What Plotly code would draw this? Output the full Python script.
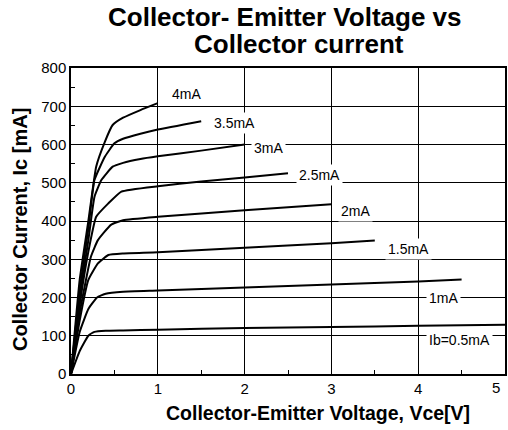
import plotly.graph_objects as go

# Data (Vce in V, Ic in mA)
vce_05 = [0, 0.1, 0.2, 0.27, 0.4, 0.6, 1, 2, 3, 4, 5]
ic_05 = [0, 60, 100, 110, 113, 114, 116, 120, 123, 126, 129]

vce_10 = [0, 0.1, 0.2, 0.3, 0.4, 0.6, 1, 2, 3, 4, 4.5]
ic_10 = [0, 110, 170, 200, 210, 215, 218, 226, 234, 242, 247]

vce_15 = [0, 0.1, 0.2, 0.31, 0.43, 0.6, 1, 2, 3, 3.5]
ic_15 = [0, 140, 246, 289, 311, 315, 318, 330, 342, 349]

vce_20 = [0, 0.1, 0.23, 0.31, 0.46, 0.6, 1, 2, 3]
ic_20 = [0, 160, 307, 350, 390, 402, 411, 428, 444]

vce_25 = [0, 0.1, 0.2, 0.29, 0.43, 0.58, 1, 1.5, 2, 2.5]
ic_25 = [0, 180, 320, 411, 446, 477, 491, 503, 514, 525]

vce_30 = [0, 0.1, 0.2, 0.27, 0.35, 0.48, 0.6, 0.8, 1, 1.5, 2]
ic_30 = [0, 200, 350, 463, 507, 542, 552, 562, 569, 584, 600]

vce_35 = [0, 0.1, 0.2, 0.27, 0.39, 0.5, 0.6, 0.8, 1, 1.5]
ic_35 = [0, 220, 380, 507, 568, 603, 615, 628, 639, 661]

vce_40 = [0, 0.1, 0.2, 0.29, 0.39, 0.48, 0.6, 0.8, 1]
ic_40 = [0, 246, 400, 542, 607, 651, 670, 690, 708]

label_text = ["4mA", "3.5mA", "3mA", "2.5mA", "2mA", "1.5mA", "1mA", "Ib=0.5mA"]
label_x = [1.33, 1.88, 2.28, 2.86, 3.28, 3.89, 4.29, 4.47]
label_y = [731, 657, 592, 519, 426, 327, 200, 88]

x_ticks = [0, 1, 2, 3, 4, 5]
x_tick_text = ["0", "1", "2", "3", "4", ""]

title_lines = ["Collector- Emitter Voltage vs", "Collector current"]
x_title = "Collector-Emitter Voltage, Vce[V]"
y_title = "Collector Current, Ic [mA]"

series = [(vce_05, ic_05), (vce_10, ic_10), (vce_15, ic_15), (vce_20, ic_20),
          (vce_25, ic_25), (vce_30, ic_30), (vce_35, ic_35), (vce_40, ic_40)]

FONT = "Liberation Sans, Arial"

fig = go.Figure()
for xs, ys in series:
    fig.add_trace(go.Scatter(x=xs, y=ys, mode="lines",
                             line=dict(color="black", width=2, shape="spline", smoothing=0.4),
                             showlegend=False, hoverinfo="skip"))

for t, x, y in zip(label_text, label_x, label_y):
    fig.add_annotation(x=x, y=y, text=t, showarrow=False, bgcolor="white",
                       font=dict(family=FONT, size=14, color="black"),
                       xanchor="center", yanchor="middle", borderpad=2)

# title (two lines, tight spacing as in the reference)
fig.add_annotation(xref="paper", yref="paper", x=0.494, y=1.167, xanchor="center", yanchor="middle",
                   text="<b>%s</b>" % title_lines[0], showarrow=False,
                   font=dict(family=FONT, size=26, color="black"))
fig.add_annotation(xref="paper", yref="paper", x=0.525, y=1.0775, xanchor="center", yanchor="middle",
                   text="<b>%s</b>" % title_lines[1], showarrow=False,
                   font=dict(family=FONT, size=26, color="black"))
# axis titles
fig.add_annotation(xref="paper", yref="paper", x=0.570, y=-0.129, xanchor="center", yanchor="middle",
                   text="<b>%s</b>" % x_title, showarrow=False,
                   font=dict(family=FONT, size=19.5, color="black"))
fig.add_annotation(xref="paper", yref="paper", x=-0.1187, y=0.472, xanchor="center", yanchor="middle",
                   text="<b>%s</b>" % y_title, showarrow=False, textangle=-90,
                   font=dict(family=FONT, size=20, color="black"))
# last x tick label, drawn just inside the right edge
fig.add_annotation(xref="x", yref="paper", x=5, y=0, xanchor="right", yanchor="top", yshift=-3, xshift=-3,
                   text=str(x_ticks[-1]), showarrow=False,
                   font=dict(family=FONT, size=15, color="black"))

fig.update_layout(
    width=508, height=430,
    margin=dict(l=71, r=3, t=68, b=56),
    paper_bgcolor="white", plot_bgcolor="white",
    font=dict(family=FONT, color="black"),
)
fig.update_xaxes(range=[0, 5], tickvals=x_ticks, ticktext=x_tick_text,
                 showgrid=True, gridcolor="black", gridwidth=1,
                 showline=True, linecolor="black", linewidth=1.5, mirror=True,
                 ticks="inside", ticklen=5, tickcolor="black",
                 minor=dict(ticks="inside", dtick=0.5, ticklen=4, tickcolor="black", showgrid=False),
                 tickfont=dict(size=15), zeroline=False, automargin=False)
fig.update_yaxes(range=[0, 800], dtick=100, showgrid=True, gridcolor="black", gridwidth=1,
                 showline=True, linecolor="black", linewidth=1.5, mirror=True,
                 ticks="inside", ticklen=5, tickcolor="black",
                 minor=dict(ticks="inside", dtick=50, ticklen=4, tickcolor="black", showgrid=False),
                 tickfont=dict(size=15), zeroline=False, automargin=False)

fig.write_html("out.html", config={"displayModeBar": False},
               post_script="document.body.style.margin='0';document.body.style.overflow='hidden';")
